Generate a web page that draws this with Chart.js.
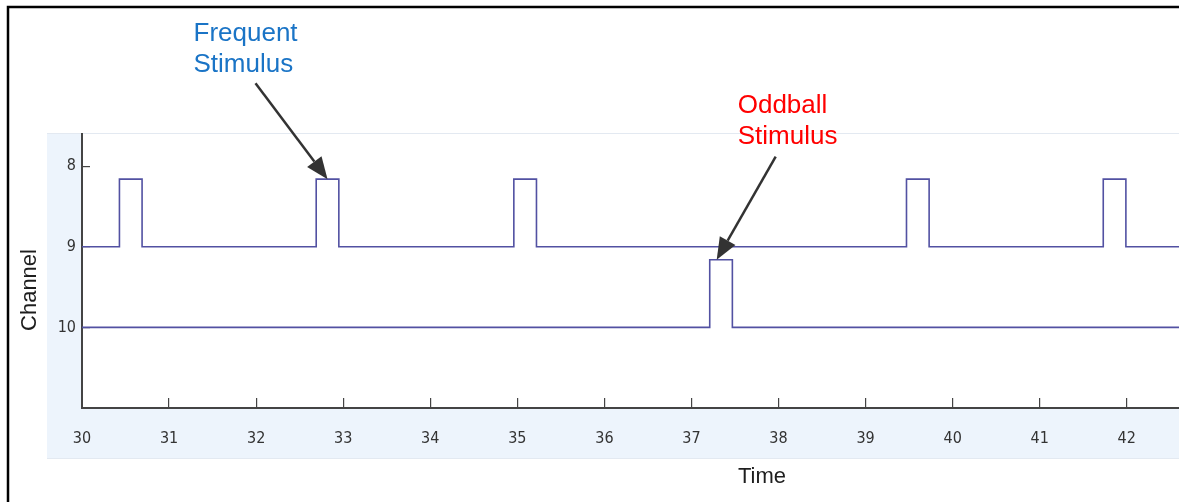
<!DOCTYPE html>
<html>
<head>
<meta charset="utf-8">
<script src="https://cdn.jsdelivr.net/npm/chart.js@4"></script>
<style>
  html, body { margin: 0; padding: 0; background: #fff; }
  canvas { display: block; }
</style>
</head>
<body>
<canvas id="stimChart" width="1179" height="502"></canvas>
<script>
// pulse onsets (s)
const frequentOnsets = [30.43, 32.69, 34.96, 39.47, 41.73];
const oddballOnsets = [37.21];
const pulseWidth = 0.26;
const channelLevels = [9, 10];      // baseline of each trace
const pulseTops = [8.16, 9.16];     // top of pulses on each trace
const timeTicks = [30, 31, 32, 33, 34, 35, 36, 37, 38, 39, 40, 41, 42];
const channelTicks = [8, 9, 10];
const timeRange = [30, 42.6];
const channelRange = [7.6, 11];

// arrow tips sit on pulse tops
const callouts = [
  { lines: ['Frequent', 'Stimulus'], color: '#1a74c6', tip: [32.82, 8.16], tail: [-72, -96], text: [-134, -138] },
  { lines: ['Oddball', 'Stimulus'], color: '#ff0000', tip: [37.29, 9.16], tail: [59, -103], text: [21, -147] }
];

function stepTrace(onsets, base, top) {
  const pts = [{ x: timeRange[0], y: base }];
  onsets.forEach(t => {
    pts.push({ x: t, y: base }, { x: t, y: top }, { x: t + pulseWidth, y: top }, { x: t + pulseWidth, y: base });
  });
  pts.push({ x: timeRange[1], y: base });
  return pts;
}

const lineColor = '#5251a2';
const tickFont = { family: "'Liberation Sans Narrow', 'DejaVu Sans Condensed', 'Liberation Sans', Arial, sans-serif", size: 16 };

const framePlugin = {
  id: 'frame',
  beforeDraw(chart) {
    const c = chart.ctx, a = chart.chartArea;
    c.save();
    c.fillStyle = '#fff';
    c.fillRect(0, 0, chart.width, chart.height);
    c.fillStyle = '#edf4fc';
    c.fillRect(47, a.top, chart.width - 47, 458 - a.top);
    c.strokeStyle = '#e3e9f1';
    c.lineWidth = 1;
    c.beginPath();
    c.moveTo(47, a.top - 0.5); c.lineTo(chart.width, a.top - 0.5);
    c.moveTo(47, 458.5); c.lineTo(chart.width, 458.5);
    c.stroke();
    c.fillStyle = '#fff';
    c.fillRect(a.left, a.top, a.right - a.left, a.bottom - a.top);
    // outer frame
    c.strokeStyle = '#000';
    c.lineWidth = 2.5;
    c.beginPath();
    c.moveTo(8, chart.height + 5); c.lineTo(8, 7); c.lineTo(chart.width + 5, 7);
    c.stroke();
    c.restore();
  },
  afterDraw(chart) {
    const c = chart.ctx;
    const xs = chart.scales.x, ys = chart.scales.y;
    c.save();
    // axis titles
    c.fillStyle = '#1e1e1e';
    c.font = "22px 'Liberation Sans', Arial, sans-serif";
    c.textAlign = 'center';
    c.textBaseline = 'alphabetic';
    c.fillText('Time', 762, 483);
    c.translate(36, 290);
    c.rotate(-Math.PI / 2);
    c.fillText('Channel', 0, 0);
    c.setTransform(1, 0, 0, 1, 0, 0);

    callouts.forEach(cl => {
      const tx = xs.getPixelForValue(cl.tip[0]);
      const ty = ys.getPixelForValue(cl.tip[1]);
      const sx = tx + cl.tail[0], sy = ty + cl.tail[1];
      const ang = Math.atan2(ty - sy, tx - sx);
      const headLen = 22, headHalf = 9;
      const bx = tx - headLen * Math.cos(ang), by = ty - headLen * Math.sin(ang);
      c.strokeStyle = '#333';
      c.fillStyle = '#333';
      c.lineWidth = 2.5;
      c.beginPath();
      c.moveTo(sx, sy); c.lineTo(bx, by);
      c.stroke();
      c.beginPath();
      c.moveTo(tx, ty);
      c.lineTo(bx + headHalf * Math.sin(ang), by - headHalf * Math.cos(ang));
      c.lineTo(bx - headHalf * Math.sin(ang), by + headHalf * Math.cos(ang));
      c.closePath();
      c.fill();

      c.fillStyle = cl.color;
      c.font = "26px 'Liberation Sans', Arial, sans-serif";
      c.textAlign = 'left';
      cl.lines.forEach((ln, i) => c.fillText(ln, tx + cl.text[0], ty + cl.text[1] + i * 31));
    });
    c.restore();
  }
};

new Chart(document.getElementById('stimChart'), {
  type: 'line',
  data: {
    datasets: [
      { label: 'Channel 9', data: stepTrace(frequentOnsets, channelLevels[0], pulseTops[0]) },
      { label: 'Channel 10', data: stepTrace(oddballOnsets, channelLevels[1], pulseTops[1]) }
    ].map(d => Object.assign(d, { borderColor: lineColor, borderWidth: 1.6, pointRadius: 0, tension: 0, fill: false }))
  },
  options: {
    responsive: false,
    animation: false,
    layout: { padding: { top: 134, left: 0, right: 0, bottom: 0 } },
    plugins: { legend: { display: false }, tooltip: { enabled: false } },
    scales: {
      x: {
        type: 'linear',
        min: timeRange[0],
        max: timeRange[1],
        afterBuildTicks: s => { s.ticks = timeTicks.map(v => ({ value: v })); },
        afterFit: s => { s.height = 94; },
        border: { color: '#444', width: 2 },
        grid: { drawOnChartArea: false, drawTicks: true, tickLength: -10, color: '#444', lineWidth: 1.2 },
        ticks: { autoSkip: false, maxRotation: 0, padding: 31, color: '#333', font: tickFont }
      },
      y: {
        type: 'linear',
        reverse: true,
        min: channelRange[0],
        max: channelRange[1],
        afterBuildTicks: s => { s.ticks = channelTicks.map(v => ({ value: v })); },
        afterFit: s => { s.width = 82; },
        border: { color: '#444', width: 2 },
        grid: { drawOnChartArea: false, drawTicks: true, tickLength: -8, color: '#444', lineWidth: 1.2 },
        ticks: { padding: 14, color: '#333', font: tickFont }
      }
    }
  },
  plugins: [framePlugin]
});
</script>
</body>
</html>
